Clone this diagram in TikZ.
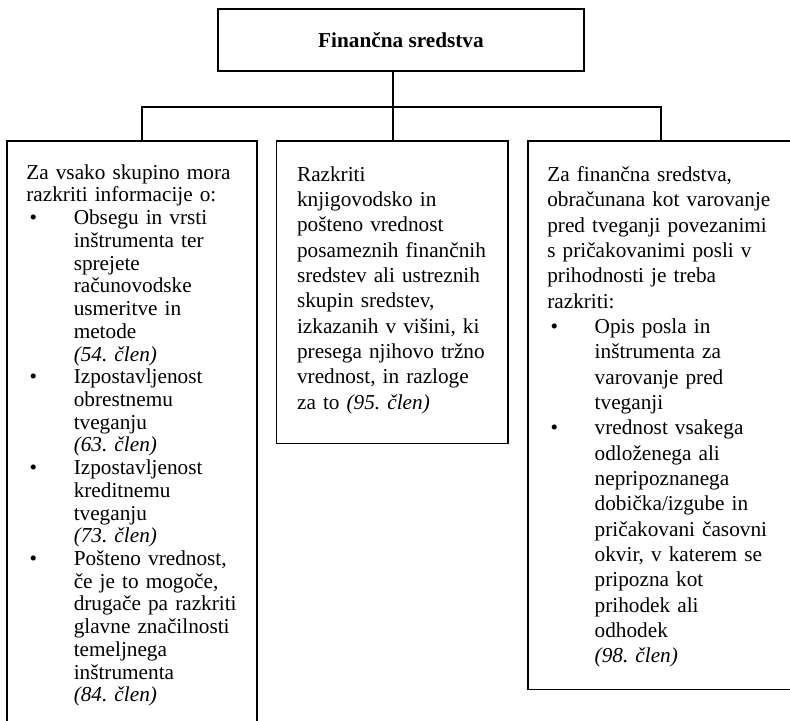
\documentclass[tikz,border=0pt]{standalone}
\usepackage{fontspec}
\setmainfont{Liberation Serif}
\usepackage{enumitem}
\usetikzlibrary{positioning}
\setlength{\parindent}{0pt}
\frenchspacing
\setlist[itemize]{nosep, label=\textbullet, leftmargin=29pt, labelindent=2pt, labelwidth=27pt, labelsep=0pt, align=left}

\begin{document}
\begin{tikzpicture}[
		okvir/.style={draw, line width=1pt, inner sep=0pt, anchor=north west},
		besedilo/.style={inner sep=0pt, align=left, font=\fontsize{13}{15.5}\selectfont},
		povezava/.style={line width=1pt}]
		\useasboundingbox (0,0) rectangle (16.985,-15.50);
		\clip (0,0) rectangle (16.985,-15.50);
		
		\node[okvir, anchor=center, minimum width=7.87cm, minimum height=1.33cm, font=\fontsize{13}{15.5}\selectfont\bfseries] (vrh) at (8.62,-0.86) {Finančna sredstva};
		\node[okvir, minimum width=5.375cm, minimum height=13cm] (levo) at (0.13,-3.01) {};
		\node[okvir, minimum width=4.97cm, minimum height=6.51cm] (srednji) at (5.93,-3.01) {};
		\node[okvir, minimum width=6cm, minimum height=11.8cm] (desno) at (11.33,-3.01) {};
		
		\coordinate (razcepl) at (3.05,-2.30);
		\coordinate (razceps) at (8.45,-2.30);
		\coordinate (razcepd) at (14.21,-2.30);
		\draw[povezava] (vrh.south -| razceps) -- (razceps |- srednji.north);
		\draw[povezava] (razcepl |- levo.north) -- (razcepl) -- (razcepd) -- (razcepd |- desno.north);
		
		\node[besedilo, font=\fontsize{13}{13.9}\selectfont, text width=4.8cm, below right=0.52cm and 0.43cm of levo.north west] (levot) {Za vsako skupino mora\\ razkriti informacije o:
			\begin{itemize}
				\item Obsegu in vrsti\\ inštrumenta ter\\ sprejete\\ računovodske\\ usmeritve in\\ metode\\ \textit{(54. člen)}
				\item Izpostavljenost\\ obrestnemu\\ tveganju\\ \textit{(63. člen)}
				\item Izpostavljenost\\ kreditnemu\\ tveganju\\ \textit{(73. člen)}
				\item Pošteno vrednost,\\ če je to mogoče,\\ drugače pa razkriti\\ glavne značilnosti\\ temeljnega\\ inštrumenta\\ \textit{(84. člen)}
			\end{itemize}};
		\node[besedilo, text width=4.4cm, below right=0.56cm and 0.45cm of srednji.north west] (srednjit) {Razkriti\\ knjigovodsko in\\ pošteno vrednost\\ posameznih finančnih\\ sredstev ali ustreznih\\ skupin sredstev,\\ izkazanih v višini, ki\\ presega njihovo tržno\\ vrednost, in razloge\\ za to \textit{(95. člen)}};
		\node[besedilo, text width=5.1cm, below right=0.56cm and 0.43cm of desno.north west] (desnot) {Za finančna sredstva,\\ obračunana kot varovanje\\ pred tveganji povezanimi\\ s pričakovanimi posli v\\ prihodnosti je treba\\ razkriti:
			\begin{itemize}
				\item Opis posla in\\ inštrumenta za\\ varovanje pred\\ tveganji
				\item vrednost vsakega\\ odloženega ali\\ nepripoznanega\\ dobička/izgube in\\ pričakovani časovni\\ okvir, v katerem se\\ pripozna kot\\ prihodek ali\\ odhodek\\ \textit{(98. člen)}
			\end{itemize}};
	\end{tikzpicture}
\end{document}
